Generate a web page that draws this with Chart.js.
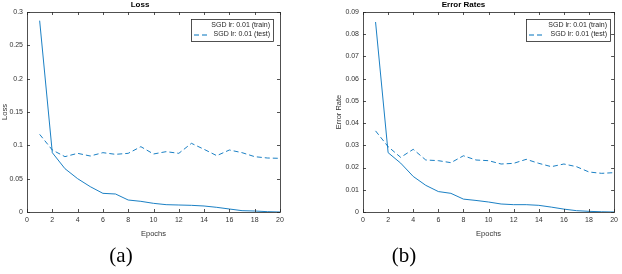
<!DOCTYPE html>
<html><head><meta charset="utf-8">
<script src="https://cdn.jsdelivr.net/npm/chart.js@4/dist/chart.umd.min.js"></script>
<style>
html,body{margin:0;padding:0;background:#fff;width:622px;height:274px;overflow:hidden;position:relative}
canvas{position:absolute;top:0}
.cap{position:absolute;font-family:"Liberation Serif","DejaVu Serif",serif;font-size:21px;color:#000;transform:translate(-50%,-50%);white-space:nowrap}
</style></head><body>
<canvas id="c1" width="310" height="245" style="left:0;width:310px;height:245px"></canvas>
<canvas id="c2" width="312" height="245" style="left:310px;width:312px;height:245px"></canvas>
<div class="cap" style="left:121px;top:255px">(a)</div>
<div class="cap" style="left:404px;top:255px">(b)</div>
<script>
const epochs = [1,2,3,4,5,6,7,8,9,10,11,12,13,14,15,16,17,18,19,20];
const lossTrain = [0.287,0.089,0.065,0.050,0.038,0.028,0.027,0.018,0.016,0.013,0.011,0.0105,0.010,0.009,0.007,0.0045,0.002,0.0015,0.0005,0.0];
const lossTest  = [0.1165,0.093,0.083,0.088,0.084,0.089,0.0865,0.088,0.098,0.087,0.0905,0.088,0.103,0.094,0.0845,0.093,0.089,0.083,0.081,0.0805];
const errTrain  = [0.0855,0.0267,0.022,0.016,0.012,0.0092,0.0084,0.0058,0.0052,0.0045,0.0036,0.0033,0.0033,0.003,0.0022,0.0013,0.0006,0.0003,0.0001,0.0];
const errTest   = [0.0365,0.0294,0.0246,0.0282,0.0234,0.0231,0.0222,0.0253,0.0234,0.0231,0.0216,0.0219,0.0237,0.0219,0.0204,0.0216,0.0204,0.018,0.0174,0.0177];
const xTicks = [0,2,4,6,8,10,12,14,16,18,20];
const labelTrain = "SGD lr: 0.01 (train)";
const labelTest = "SGD lr: 0.01 (test)";

const BLUE = "#0072BD";
const AX = "#262626";
const FONT = "'Liberation Sans', Arial, sans-serif";

function pts(v){ return v.map((y,i)=>({x:epochs[i], y})); }
function fmt(v){ return String(Number(Number(v).toFixed(4))); }

const boxPlugin = {
  id:'box',
  afterDraw(chart){
    const {ctx, chartArea:a, scales:{x,y}} = chart;
    ctx.save();
    ctx.strokeStyle = AX; ctx.lineWidth = 0.8;
    ctx.strokeRect(a.left+0.5, a.top+0.5, a.right-a.left, a.bottom-a.top);
    ctx.beginPath();
    const L = 3;
    x.ticks.forEach(t=>{ const px = Math.round(x.getPixelForValue(t.value))+0.5;
      ctx.moveTo(px,a.bottom); ctx.lineTo(px,a.bottom-L);
      ctx.moveTo(px,a.top); ctx.lineTo(px,a.top+L); });
    y.ticks.forEach(t=>{ const py = Math.round(y.getPixelForValue(t.value))+0.5;
      ctx.moveTo(a.left,py); ctx.lineTo(a.left+L,py);
      ctx.moveTo(a.right,py); ctx.lineTo(a.right-L,py); });
    ctx.stroke();
    const o = chart.options.plugins.boxLegend;
    const bx = a.left + o.x, by = a.top + o.y;
    ctx.fillStyle = '#fff';
    ctx.fillRect(bx, by, o.w, o.h);
    ctx.strokeStyle = AX; ctx.lineWidth = 0.8;
    ctx.strokeRect(bx+0.5, by+0.5, o.w, o.h);
    ctx.font = "7px " + FONT;
    ctx.fillStyle = AX; ctx.textAlign = 'right'; ctx.textBaseline = 'middle';
    chart.data.datasets.forEach((d,i)=>{
      const ly = by + 6 + i*9.5;
      ctx.fillText(d.label, bx + o.w - 3, ly);
      if (d.borderDash && d.borderDash.length){
        ctx.strokeStyle = BLUE; ctx.lineWidth = 1; ctx.setLineDash(d.borderDash);
        ctx.beginPath(); ctx.moveTo(bx+3, ly+0.5); ctx.lineTo(bx+17, ly+0.5); ctx.stroke();
        ctx.setLineDash([]);
      }
    });
    ctx.restore();
  }
};

function make(id, title, ytitle, train, test, ymax, ystep, yw, ytpad, padRight, legend){
  new Chart(document.getElementById(id), {
    type:'line',
    data:{ datasets:[
      {label:labelTrain, data:pts(train), borderColor:BLUE, borderWidth:0.9, pointRadius:0, tension:0, fill:false},
      {label:labelTest, data:pts(test), borderColor:BLUE, borderWidth:0.9, borderDash:[5,3], pointRadius:0, tension:0, fill:false}
    ]},
    options:{
      responsive:false, animation:false, devicePixelRatio:1,
      layout:{padding:{left:0,right:padRight,top:0,bottom:0}},
      plugins:{
        legend:{display:false}, tooltip:{enabled:false},
        title:{display:true, text:title, color:'#000', font:{family:FONT,size:8,weight:'bold',lineHeight:1.2}, padding:{top:0,bottom:2.4}},
        boxLegend: legend
      },
      scales:{
        x:{type:'linear', min:0, max:20,
           afterBuildTicks(s){ s.ticks = xTicks.map(v=>({value:v})); },
           grid:{display:false, drawTicks:false}, border:{display:false},
           ticks:{color:'#333', padding:4, font:{family:FONT,size:7}, maxRotation:0, autoSkip:false},
           title:{display:true, text:'Epochs', color:'#333', font:{family:FONT,size:7.5}, padding:{top:3,bottom:7}},
           afterFit(s){ s.height = 33; }},
        y:{type:'linear', min:0, max:ymax,
           ticks:{stepSize:ystep, color:'#333', padding:4, font:{family:FONT,size:7}, callback:(v)=>fmt(v)},
           grid:{display:false, drawTicks:false}, border:{display:false},
           title:{display:true, text:ytitle, color:'#333', font:{family:FONT,size:7.5}, padding:{top:ytpad,bottom:0}},
           afterFit(s){ s.width = yw; }}
      }
    },
    plugins:[boxPlugin]
  });
}

make('c1','Loss','Loss',lossTrain,lossTest,0.3,0.05,27,0,30,{x:164,y:7,w:82,h:22});
make('c2','Error Rates','Error Rate',errTrain,errTest,0.09,0.01,53,24,5,{x:163,y:7,w:84,h:22});
</script>
</body></html>
